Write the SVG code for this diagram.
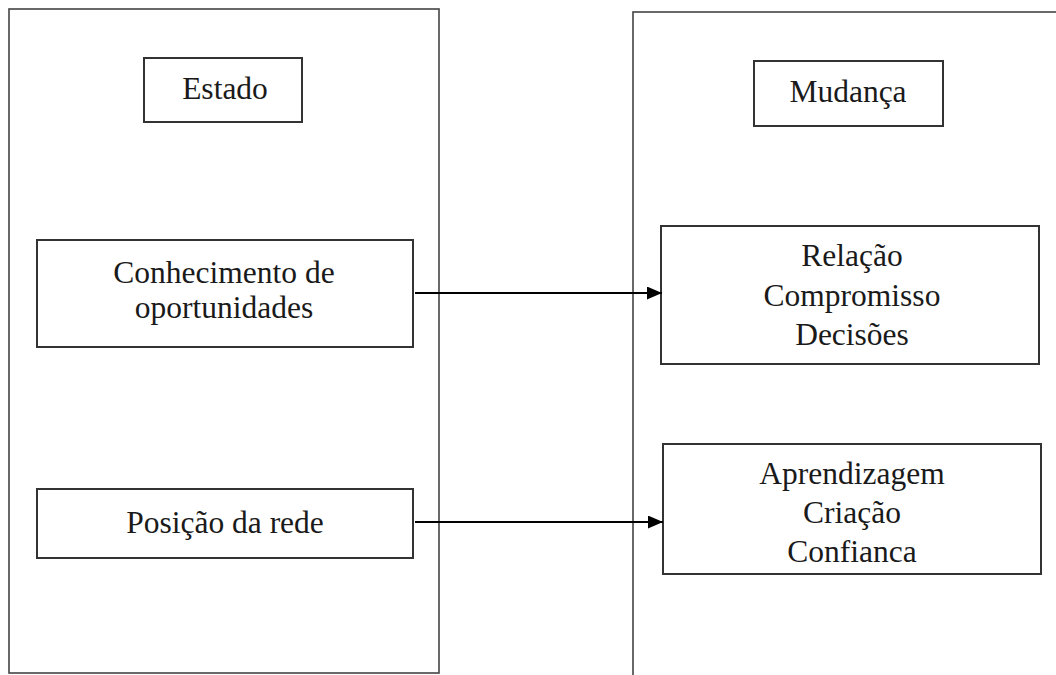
<svg xmlns="http://www.w3.org/2000/svg" width="1056" height="675" viewBox="0 0 1056 675">
<style>
.panel{fill:none;stroke:#444;stroke-width:1.6}
.box{fill:#fff;stroke:#333;stroke-width:2}
.t{font-family:"Liberation Serif","Times New Roman",serif;font-size:31.5px;fill:#1a1a1a;text-anchor:middle}
.conn{stroke:#000;stroke-width:2;fill:none}
</style>
<defs>
<marker id="ah" markerWidth="15" markerHeight="13" refX="15" refY="6.5" orient="auto" markerUnits="userSpaceOnUse">
<path d="M0,0 L15,6.5 L0,13 Z" fill="#000"/>
</marker>
</defs>
<rect width="1056" height="675" fill="#fff"/>
<g id="panel-estado"><rect class="panel" x="9" y="9" width="430" height="664"/></g>
<g id="panel-mudanca"><rect class="panel" x="633" y="12" width="500" height="700"/></g>
<g id="estado"><rect class="box" x="144" y="58" width="158" height="64"/><text class="t" x="225" y="99">Estado</text></g>
<g id="mudanca"><rect class="box" x="754" y="61" width="189" height="65"/><text class="t" x="848" y="102">Mudança</text></g>
<g id="conhecimento"><rect class="box" x="37" y="240" width="376" height="107"/><text class="t" x="224" y="283">Conhecimento de</text><text class="t" x="224" y="318">oportunidades</text></g>
<g id="posicao"><rect class="box" x="37" y="489" width="376" height="69"/><text class="t" x="225" y="533">Posição da rede</text></g>
<g id="relacao"><rect class="box" x="661" y="226" width="378" height="138"/><text class="t" x="852" y="266">Relação</text><text class="t" x="852" y="306">Compromisso</text><text class="t" x="852" y="345">Decisões</text></g>
<g id="aprendizagem"><rect class="box" x="663" y="444" width="378" height="130"/><text class="t" x="852" y="484">Aprendizagem</text><text class="t" x="852" y="523">Criação</text><text class="t" x="852" y="562">Confianca</text></g>
<g id="connectors">
<line class="conn" x1="415" y1="293" x2="662" y2="293" marker-end="url(#ah)"/>
<line class="conn" x1="415" y1="522" x2="663" y2="522" marker-end="url(#ah)"/>
</g>
</svg>
